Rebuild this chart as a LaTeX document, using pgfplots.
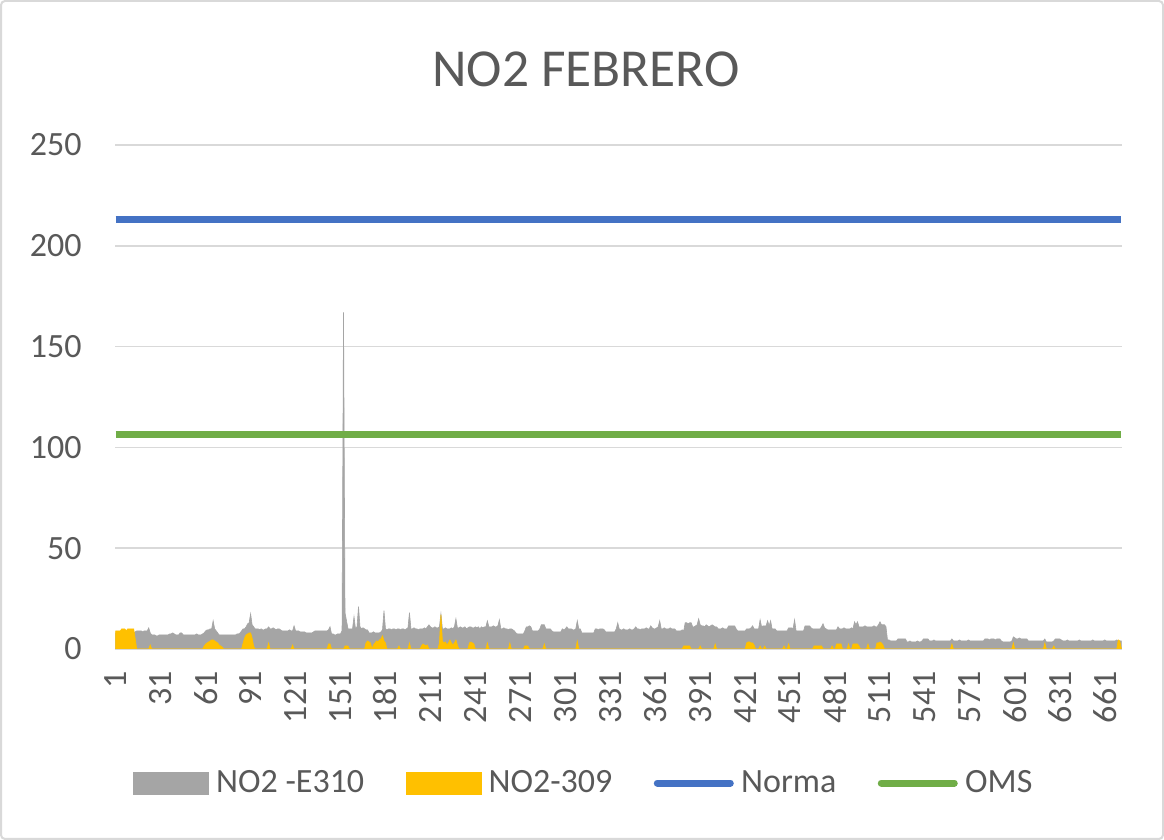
\documentclass[border=0pt]{standalone}
\usepackage{fontspec}
\setmainfont{Carlito}
\usepackage{pgfplots}
\pgfplotsset{compat=1.18}
\definecolor{grayA}{HTML}{A5A5A5}
\definecolor{yelA}{HTML}{FFC000}
\definecolor{bluA}{HTML}{4472C4}
\definecolor{grnA}{HTML}{70AD47}
\definecolor{txtc}{HTML}{595959}
\definecolor{gridc}{HTML}{D9D9D9}
\begin{document}
\begin{tikzpicture}
\path[use as bounding box, fill=white] (0,0) rectangle (582pt,420pt);
\draw[color=gridc, line width=1pt, rounded corners=2pt] (0.5pt,0.5pt) rectangle (581.5pt,419.5pt);
\node[text=txtc, font=\fontsize{26.7}{30}\selectfont] at (293pt,385.5pt) {NO2 FEBRERO};
\begin{axis}[
  at={(57.5pt,95.5pt)}, anchor=south west,
  width=503.5pt, height=252pt, scale only axis,
  xmin=0.5, xmax=672.5, ymin=0, ymax=250,
  xtick={1,31,...,661}, ytick={0,50,...,250},
  ymajorgrids, grid style={color=gridc, line width=0.75pt},
  axis line style={draw=none}, major tick length=0pt, tick style={draw=none},
  ticklabel style={font=\fontsize{17}{20}\selectfont, text=txtc, inner sep=0pt},
  /pgf/number format/assume math mode=true,
  scaled ticks=false,
  xticklabel style={rotate=90, anchor=east},
  yticklabel style={anchor=east},
  xticklabel shift=11pt, yticklabel shift=16.5pt,
  legend style={at={(0.4657,-0.2659)}, anchor=center, draw=none, fill=none,
    font=\fontsize{17}{20}\selectfont, text=txtc,
    nodes={inner sep=1.2pt},
    /tikz/every odd column/.append style={column sep=2.5pt},
    /tikz/every even column/.append style={column sep=19.5pt}},
  legend columns=4,
  legend cell align=left,
]
\addplot[fill=grayA, draw=grayA, line width=0.3pt,
  legend image code/.code={\fill[grayA] (0pt,-5.5pt) rectangle (37.5pt,5.5pt);}]
  table[row sep=\\, x expr=\coordindex+1, y index=0] {y\\
8\\ 8\\ 8\\ 8\\ 8.5\\ 8.5\\ 8\\ 8\\ 8.5\\ 8.5\\ 8\\ 8\\ 8\\ 8.5\\ 9\\ 9\\ 9\\ 9\\ 8.5\\ 9\\ 9\\ 9\\ 10.5\\ 8\\
7\\ 7\\ 7\\ 6.5\\ 6.5\\ 7\\ 7\\ 7\\ 7\\ 7\\ 7\\ 7\\ 7.5\\ 7.5\\ 8\\ 7.5\\ 7\\ 7\\ 7\\ 8\\ 8\\ 7\\ 7\\ 7\\
7\\ 7\\ 7\\ 7\\ 7\\ 7\\ 7.5\\ 7\\ 7\\ 7\\ 7.5\\ 8\\ 9\\ 9.5\\ 9.5\\ 10\\ 10\\ 14\\ 10\\ 9\\ 8\\ 7\\ 7\\ 7\\
7\\ 7\\ 7\\ 7\\ 7\\ 7\\ 7\\ 7\\ 7\\ 7.5\\ 7.5\\ 8\\ 9\\ 10\\ 10\\ 11\\ 12.5\\ 13\\ 17.5\\ 12\\ 11\\ 10\\ 10\\ 10\\
9.5\\ 10\\ 9.5\\ 9.5\\ 10\\ 10\\ 11\\ 10\\ 10\\ 10.5\\ 10\\ 9.5\\ 10\\ 10\\ 9.5\\ 9\\ 9\\ 9\\ 9\\ 9\\ 9.5\\ 9\\ 9\\ 11.5\\
9\\ 9\\ 9\\ 8.5\\ 8.5\\ 8.5\\ 8.5\\ 8\\ 8\\ 8\\ 8\\ 8\\ 8.5\\ 9\\ 9\\ 9\\ 9\\ 9\\ 9\\ 9\\ 9\\ 9\\ 9.5\\ 11\\
7.5\\ 7.5\\ 7\\ 7\\ 7.5\\ 7.5\\ 7.5\\ 9\\ 167\\ 18\\ 14\\ 10\\ 10\\ 10\\ 10\\ 16\\ 10\\ 11\\ 21\\ 11\\ 10\\ 10.5\\ 10\\ 9.5\\
9.5\\ 8\\ 8\\ 8\\ 8.5\\ 8\\ 8\\ 8\\ 8\\ 8.5\\ 9.5\\ 19\\ 10\\ 9.5\\ 10\\ 10\\ 9.5\\ 10\\ 10\\ 9.5\\ 10\\ 10\\ 9.5\\ 10\\
10\\ 9.5\\ 10\\ 10.5\\ 18\\ 10\\ 10\\ 10.5\\ 10\\ 10\\ 9.5\\ 10\\ 10\\ 10\\ 10.5\\ 10\\ 11\\ 12\\ 11\\ 10.5\\ 10.5\\ 11\\ 10.5\\ 10.5\\
11\\ 17.5\\ 10\\ 10\\ 10.5\\ 10\\ 10\\ 10\\ 10.5\\ 10\\ 11\\ 15\\ 10.5\\ 10.5\\ 11\\ 10.5\\ 10.5\\ 11\\ 10\\ 10.5\\ 11\\ 11\\ 10.5\\ 10.5\\
11\\ 10.5\\ 11\\ 10\\ 11\\ 10.5\\ 11\\ 11\\ 14\\ 11\\ 11\\ 11\\ 11.5\\ 11\\ 11\\ 11.5\\ 14.5\\ 10\\ 10\\ 10.5\\ 10\\ 10\\ 9.5\\ 10\\
10\\ 9.5\\ 9\\ 8\\ 7.5\\ 7.5\\ 7.5\\ 7.5\\ 7.5\\ 9\\ 11\\ 11\\ 11.5\\ 11\\ 9\\ 9\\ 9\\ 9\\ 9\\ 10\\ 12\\ 12\\ 12\\ 10\\
10\\ 10\\ 10\\ 9\\ 8.5\\ 8.5\\ 8.5\\ 8.5\\ 8.5\\ 8.5\\ 10\\ 9.5\\ 10\\ 11\\ 10\\ 10\\ 10\\ 9.5\\ 9.5\\ 10\\ 14\\ 10\\ 10\\ 8\\
8\\ 8\\ 8\\ 8\\ 8\\ 8\\ 8\\ 8\\ 10\\ 10\\ 9.5\\ 10\\ 10\\ 10\\ 9.5\\ 8.5\\ 8.5\\ 8.5\\ 8.5\\ 8.5\\ 8.5\\ 8.5\\ 10\\ 13\\
10\\ 9.5\\ 9.5\\ 10\\ 9.5\\ 9.5\\ 9.5\\ 10\\ 9.5\\ 9.5\\ 10\\ 11\\ 10\\ 10\\ 9.5\\ 10\\ 10\\ 10\\ 10.5\\ 10\\ 10\\ 11.5\\ 10.5\\ 10\\
10\\ 10.5\\ 11\\ 14\\ 10\\ 10\\ 10.5\\ 10\\ 10\\ 10\\ 10.5\\ 10\\ 10\\ 10\\ 9\\ 9\\ 9\\ 9\\ 9.5\\ 9\\ 13\\ 13\\ 12.5\\ 13\\
13\\ 11\\ 11\\ 11.5\\ 12\\ 15\\ 12\\ 11.5\\ 11.5\\ 11\\ 12\\ 11.5\\ 11\\ 11.5\\ 12\\ 11.5\\ 11\\ 11\\ 10\\ 10\\ 10\\ 10.5\\ 10\\ 10\\
10\\ 11.5\\ 11.5\\ 11.5\\ 11.5\\ 11.5\\ 10\\ 9\\ 9\\ 9\\ 9\\ 9\\ 9\\ 10\\ 10\\ 10\\ 10.5\\ 11.5\\ 10\\ 10\\ 10\\ 10\\ 14.5\\ 11\\
11.5\\ 11.5\\ 11.5\\ 14\\ 11.5\\ 14\\ 10\\ 10\\ 10\\ 9\\ 9\\ 9\\ 9\\ 9\\ 9\\ 9\\ 9\\ 10.5\\ 10.5\\ 10.5\\ 10\\ 14.5\\ 9\\ 9\\
9\\ 9\\ 9\\ 9\\ 11.5\\ 11.5\\ 11.5\\ 11.5\\ 10.5\\ 10\\ 10\\ 10\\ 10\\ 10\\ 10\\ 11\\ 12.5\\ 10.5\\ 10\\ 9.5\\ 9.5\\ 9.5\\ 9.5\\ 9.5\\
9.5\\ 9.5\\ 11\\ 10\\ 10\\ 10\\ 10.5\\ 10\\ 10\\ 10\\ 10\\ 10.5\\ 10\\ 13.5\\ 12\\ 13.5\\ 11\\ 11\\ 11\\ 11\\ 11.5\\ 11\\ 11\\ 11\\
11\\ 11\\ 11.5\\ 11\\ 11\\ 12\\ 13.5\\ 12\\ 12\\ 12\\ 11\\ 4.5\\ 4.5\\ 4\\ 4\\ 4\\ 4\\ 4\\ 5\\ 5\\ 5\\ 5\\ 5\\ 5\\
3.5\\ 3.5\\ 4\\ 3.5\\ 3.5\\ 3.5\\ 3.5\\ 4\\ 3.5\\ 3.5\\ 4\\ 5\\ 5\\ 5\\ 5\\ 4\\ 4\\ 4\\ 4.5\\ 4\\ 4\\ 4\\ 4\\ 4\\
4\\ 4\\ 4\\ 4\\ 4\\ 4\\ 5\\ 4\\ 4\\ 4\\ 4\\ 4.5\\ 4\\ 4\\ 4\\ 4\\ 4\\ 4.5\\ 4\\ 4\\ 4\\ 4\\ 4\\ 4\\
4\\ 4\\ 4\\ 4\\ 5\\ 5\\ 5\\ 4.5\\ 5\\ 5\\ 5\\ 4.5\\ 5\\ 5\\ 5\\ 4\\ 3.5\\ 3.5\\ 3.5\\ 3.5\\ 3.5\\ 3.5\\ 4\\ 6\\
5.5\\ 5\\ 5\\ 5.5\\ 5\\ 5\\ 5\\ 5\\ 5\\ 4\\ 4\\ 4\\ 4\\ 4\\ 4\\ 4\\ 4\\ 4\\ 4\\ 4\\ 5\\ 3.5\\ 3.5\\ 3.5\\
3.5\\ 3.5\\ 4\\ 5\\ 5\\ 5\\ 5\\ 4.5\\ 4\\ 4\\ 4\\ 4.5\\ 4\\ 4\\ 4\\ 4\\ 4\\ 4\\ 4\\ 4.5\\ 4\\ 4\\ 4\\ 4\\
4\\ 4\\ 4\\ 4\\ 4.5\\ 4\\ 4\\ 4\\ 4\\ 4\\ 4\\ 4\\ 4.5\\ 4\\ 4\\ 4\\ 4\\ 4\\ 4\\ 4\\ 4.5\\ 4\\ 4\\ 4\\
} \closedcycle;
\addlegendentry{NO2 -E310}
\addplot[fill=yelA, draw=yelA, line width=0.3pt,
  legend image code/.code={\fill[yelA] (0pt,-5.5pt) rectangle (37.5pt,5.5pt);}]
  coordinates {
(1,9)(2,9)(3,9)(4,9)(5,10)(6,10)(7,10)(8,9)(9,10)(10,10)(11,10)(12,10)(13,10)(14,5)(15,0)
(23,0)(24,2)(25,0)
(59,0)(60,1.5)(61,2.5)(62,3)(63,3.5)(64,4)(65,4.5)(66,4.5)(67,4)(68,3.5)(69,3)(70,2)(71,1.5)(72,1)(73,0)
(85,0)(86,3)(87,5.5)(88,7)(89,7.5)(90,8)(91,8)(92,5.5)(93,1.5)(94,0)
(102,0)(103,3)(104,0)
(118,0)(119,2)(120,0)
(142,0)(143,2.5)(144,2.5)(145,0)
(153,0)(154,1.5)(155,1.5)(156,1.5)(157,0)
(167,0)(168,3)(169,4)(170,3.5)(171,3)(172,0)(173,2)(174,3)(175,4)(176,3.5)(177,4.5)(178,5)(179,6.5)(180,4)(181,3)(182,0)
(189,0)(190,1.5)(191,0)
(196,0)(197,3)(198,0)
(204,0)(205,1.5)(206,2.5)(207,2)(208,1.5)(209,2)(210,0)
(216,0)(217,3)(218,17)(219,4)(220,3)(221,3.5)(222,2)(223,3)(224,4.5)(225,3)(226,2)(227,3)(228,4.5)(229,2)(230,0)
(236,0)(237,3)(238,3.5)(239,3)(240,2.5)(241,0)
(248,0)(249,3)(250,0)
(263,0)(264,3)(265,0)
(273,0)(274,1.5)(275,1.5)(276,1.5)(277,0)
(286,0)(287,2.5)(288,0)
(308,0)(309,4)(310,0)
(379,0)(380,1.5)(381,1.5)(382,1.5)(383,1.5)(384,1.5)(385,0)
(390,0)(391,1.5)(392,0)
(400,0)(401,2.5)(402,0)
(421,0)(422,3)(423,3.5)(424,3.5)(425,3)(426,3)(427,2)(428,0)
(430,0)(431,1.5)(432,0)
(433,0)(434,1.5)(435,0)
(446,0)(447,1.5)(448,0)
(449,0)(450,2.5)(451,0)
(466,0)(467,1.5)(468,1.5)(469,1.5)(470,1.5)(471,1.5)(472,1.5)(473,0)
(478,0)(479,1.5)(480,0)
(481,0)(482,2.5)(483,2.5)(484,2.5)(485,2.5)(486,0)
(489,0)(490,2.5)(491,0)
(492,0)(493,2.5)(494,2.5)(495,2.5)(496,2.5)(497,1.5)(498,0)
(502,0)(503,2.5)(504,0)
(508,0)(509,3)(510,3)(511,3.5)(512,3)(513,2)(514,0)
(558,0)(559,2.5)(560,0)
(599,0)(600,3)(601,0)
(620,0)(621,3)(622,0)
(626,0)(627,1.5)(628,0)
(669,0)(670,4.5)(671,4)(672,0.5)
} \closedcycle;
\addlegendentry{NO2-309}
\addplot[color=bluA, line width=3.5pt,
  legend image code/.code={\draw[bluA, line width=3.5pt, line cap=round] (1.75pt,0pt) -- (38.25pt,0pt);}]
  coordinates {(1,212.8)(672,212.8)};
\addlegendentry{Norma}
\addplot[color=grnA, line width=3.5pt,
  legend image code/.code={\draw[grnA, line width=3.5pt, line cap=round] (1.75pt,0pt) -- (38.25pt,0pt);}]
  coordinates {(1,106.4)(672,106.4)};
\addlegendentry{OMS}
\end{axis}
\end{tikzpicture}
\end{document}
